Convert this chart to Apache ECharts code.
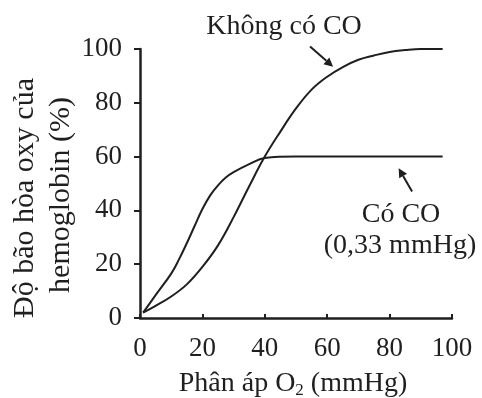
<!DOCTYPE html>
<html>
<head>
<meta charset="utf-8">
<script src="https://cdn.jsdelivr.net/npm/echarts@6/dist/echarts.min.js"></script>
<style>
  html, body { margin: 0; padding: 0; background: #fff; }
  #chart { width: 482px; height: 398px; }
</style>
</head>
<body>
<div id="chart"></div>
<script>
// Oxygen partial pressure (mmHg) vs. hemoglobin saturation (%)
const xTicks = [0, 20, 40, 60, 80, 100];
const yTicks = [0, 20, 40, 60, 80, 100];

const noCoX = [1, 5, 10, 15, 20, 25, 30, 35, 40, 45, 50, 55, 60, 65, 70, 75, 80, 85, 90, 97];
const noCoY = [2, 4.5, 8, 12.5, 19, 27, 37.5, 49, 60, 69.3, 77.9, 84.9, 89.7, 93.3, 96, 97.6, 98.9, 99.6, 100, 100];

const coX = [1, 5, 10, 12.5, 15, 17.5, 20, 22.5, 25, 27.5, 30, 35, 40, 50, 60, 70, 80, 90, 97];
const coY = [2, 8.5, 16.5, 21.8, 27.8, 34.2, 40.5, 45.6, 49.3, 52.2, 54.2, 57.2, 59.5, 60, 60, 60, 60, 60, 60];

const labelNoCo = "Không có CO";
const labelCo = "Có CO";
const labelCoNote = "(0,33 mmHg)";
const yTitle1 = "Độ bão hòa oxy của";
const yTitle2 = "hemoglobin (%)";

const ink = "#1f1f1f";
const font = "'Liberation Serif', 'DejaVu Serif', serif";

const chart = echarts.init(document.getElementById("chart"));

const pairs = (xs, ys) => xs.map((x, i) => [x, ys[i]]);

const lineSeries = (name, data) => ({
  name,
  type: "line",
  data,
  smooth: 0.4,
  symbol: "none",
  lineStyle: { color: ink, width: 2 },
  silent: true,
});

const centered = (x, y, text, size, extra) => ({
  type: "text",
  x,
  y,
  ...extra,
  style: { text, fill: ink, font: `${size}px ${font}`, align: "center", verticalAlign: "middle" },
});

const option = {
  animation: false,
  backgroundColor: "#fff",
  grid: { left: 140, right: 30, top: 49, bottom: 80 },
  xAxis: {
    type: "value",
    min: 0,
    max: 100,
    interval: 20,
    offset: 5,
    axisLine: { lineStyle: { color: ink, width: 2.5 } },
    axisTick: { inside: true, length: 4, lineStyle: { color: ink, width: 2 } },
    splitLine: { show: false },
    axisLabel: { color: ink, fontFamily: font, fontSize: 27, margin: 12 },
  },
  yAxis: {
    type: "value",
    min: 0,
    max: 100,
    interval: 20,
    offset: 4,
    axisLine: { show: true, lineStyle: { color: ink, width: 2.5 } },
    axisTick: { show: true, length: 6, lineStyle: { color: ink, width: 2 } },
    splitLine: { show: false },
    axisLabel: { color: ink, fontFamily: font, fontSize: 27, margin: 14 },
  },
  series: [
    lineSeries(labelNoCo, pairs(noCoX, noCoY)),
    lineSeries(labelCo, pairs(coX, coY)),
  ],
  graphic: [
    centered(284, 27, labelNoCo, 28),
    centered(401, 215, labelCo, 28),
    centered(400, 246, labelCoNote, 28),
    centered(25, 198, yTitle1, 30, { rotation: Math.PI / 2 }),
    centered(61, 195, yTitle2, 30, { rotation: Math.PI / 2 }),
    {
      type: "text",
      x: 293,
      y: 384,
      style: {
        text: "{a|Phân áp O}{s|2}{a| (mmHg)}",
        align: "center",
        verticalAlign: "middle",
        rich: {
          a: { fill: ink, fontFamily: font, fontSize: 28 },
          s: { fill: ink, fontFamily: font, fontSize: 17, padding: [13, 0, 0, 0] },
        },
      },
    },
  ],
};

chart.setOption(option);

// annotation arrows, placed in data space
const arrows = [
  [[54.5, 100.9], [61.9, 93.4]],
  [[87.2, 47], [82.9, 55.7]],
];
const arrowGraphics = arrows.map(([from, to]) => {
  const p0 = chart.convertToPixel({ gridIndex: 0 }, from);
  const p1 = chart.convertToPixel({ gridIndex: 0 }, to);
  const ang = Math.atan2(p1[1] - p0[1], p1[0] - p0[0]);
  const hl = 9, hw = 4.5;
  const bx = p1[0] - hl * Math.cos(ang), by = p1[1] - hl * Math.sin(ang);
  const nx = -Math.sin(ang) * hw, ny = Math.cos(ang) * hw;
  return [
    { type: "line", shape: { x1: p0[0], y1: p0[1], x2: bx, y2: by }, style: { stroke: ink, lineWidth: 2 } },
    { type: "polygon", shape: { points: [[p1[0], p1[1]], [bx + nx, by + ny], [bx - nx, by - ny]] }, style: { fill: ink } },
  ];
}).flat();

chart.setOption({ graphic: option.graphic.concat(arrowGraphics) });
</script>
</body>
</html>
